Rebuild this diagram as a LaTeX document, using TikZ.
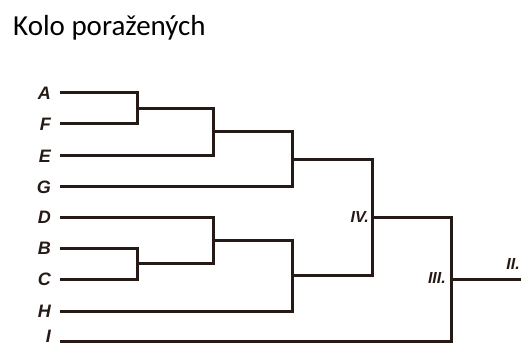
\documentclass[tikz,border=0pt]{standalone}
\usepackage{fontspec}
\newfontfamily\titlefont{Carlito}
\newfontfamily\labfont{Liberation Sans}
\definecolor{ink}{RGB}{38,26,22}
\begin{document}
\begin{tikzpicture}[x=1pt,y=-1pt,
  bracket/.style={draw=ink,line width=3pt,line join=miter},
  lab/.style={anchor=east,inner xsep=9pt,inner ysep=0pt,text=ink,font=\labfont\bfseries\itshape\fontsize{18}{18}\selectfont},
  rlab/.style={inner sep=0pt,text=ink,font=\labfont\bfseries\itshape\fontsize{16}{16}\selectfont}]
\useasboundingbox (0,0) rectangle (521,347);
\node[anchor=base west,inner sep=0pt,font=\titlefont\fontsize{29}{29}\selectfont] (title) at (13,36) {Kolo poražených};
% players
\node[lab] (A) at (60,93) {A};
\node[lab] (F) at (60,124) {F};
\node[lab] (E) at (60,156) {E};
\node[lab] (G) at (60,187) {G};
\node[lab] (D) at (60,217) {D};
\node[lab] (B) at (60,248) {B};
\node[lab] (C) at (60,279) {C};
\node[lab] (H) at (60,311) {H};
\node[lab] (I) at (60,336) {I};
% joins
\coordinate (j1) at (137,108.5);
\coordinate (j2) at (213,132);
\coordinate (j3) at (292,159.5);
\coordinate (j4) at (137,263.5);
\coordinate (j5) at (213,240);
\coordinate (j6) at (292,275.5);
\coordinate (j7) at (372,217.5);
\coordinate (j8) at (451,279);
\coordinate (fin) at (521,279);
% brackets
\draw[bracket] (A.east) -| (j1) |- (F.east);
\draw[bracket] (j1) -| (j2) |- (E.east);
\draw[bracket] (j2) -| (j3) |- (G.east);
\draw[bracket] (B.east) -| (j4) |- (C.east);
\draw[bracket] (D.east) -| (j5) |- (j4);
\draw[bracket] (j5) -| (j6) |- (H.east);
\draw[bracket] (j3) -| (j7) |- (j6);
\draw[bracket] (j7) -| (j8) |- ([yshift=-5pt]I.east);
\draw[bracket] (j8) -- (fin);
% round labels
\node[rlab,anchor=east] (r4) at (369,217) {IV.};
\node[rlab,anchor=east] (r3) at (446,278) {III.};
\node[rlab,anchor=south east] (r2) at (520,270) {II.};
\end{tikzpicture}
\end{document}
